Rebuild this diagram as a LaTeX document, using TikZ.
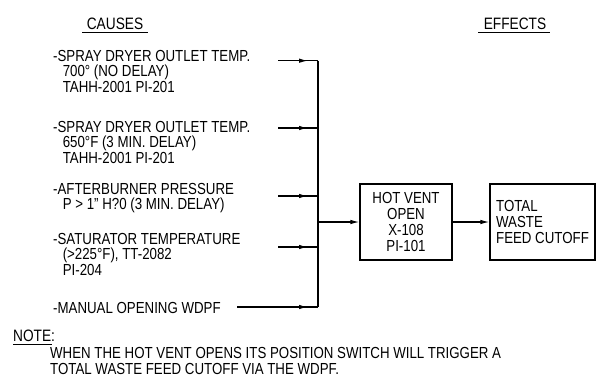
\documentclass[tikz,border=0pt]{standalone}
\usepackage{fontspec}
\setmainfont{Liberation Sans}[FakeStretch=0.83]
\usetikzlibrary{arrows.meta,decorations.markings}

\tikzset{
    cause/.style={anchor=north west, inner sep=0pt, align=left,
        font=\fontsize{16}{15.5}\selectfont},
    heading/.style={inner sep=0pt, font=\fontsize{16.5}{16}\selectfont},
    effectbox/.style={draw, line width=1.2pt, minimum width=92pt,
        minimum height=76pt, inner sep=2pt, font=\fontsize{16}{16}\selectfont},
    feed/.style={line width=1.2pt, postaction={decorate},
        decoration={markings, mark=at position -10pt with {\arrow{Latex[length=9pt,width=4.5pt]}}}},
    link/.style={line width=1.2pt, -{Latex[length=9pt,width=4.5pt]}}
}

\begin{document}
\begin{tikzpicture}[x=1pt, y=-1pt]
    \useasboundingbox (0,0) rectangle (605,381);

    % Headings
    \node[heading, anchor=north] (causes) at (115,18) {CAUSES};
    \node[heading, anchor=north] (effects) at (515,18) {EFFECTS};
    \draw[line width=1pt] (82,32) -- (148,32);
    \draw[line width=1pt] (478,32) -- (550,32);

    % Causes
    \node[cause] (c1) at (53,50) {-SPRAY DRYER OUTLET TEMP.\\\hspace*{.6em}700\textdegree\ (NO DELAY)\\\hspace*{.6em}TAHH-2001 PI-201};
    \node[cause] (c2) at (53,121) {-SPRAY DRYER OUTLET TEMP.\\\hspace*{.6em}650\textdegree F (3 MIN. DELAY)\\\hspace*{.6em}TAHH-2001 PI-201};
    \node[cause] (c3) at (53,183) {-AFTERBURNER PRESSURE\\\hspace*{.6em}P > 1" H?0 (3 MIN. DELAY)};
    \node[cause] (c4) at (53,233) {-SATURATOR TEMPERATURE\\\hspace*{.6em}(>225\textdegree F), TT-2082\\\hspace*{.6em}PI-204};
    \node[cause] (c5) at (53,302) {-MANUAL OPENING WDPF};

    % Effects
    \node[effectbox, align=center] (vent) at (406,222) {HOT VENT\\OPEN\\X-108\\PI-101};
    \node[effectbox, align=left, minimum width=105pt] (cutoff) at (542.5,222) {TOTAL\\WASTE\\FEED CUTOFF};

    % Bus coordinates
    \coordinate (s1) at (278,60.7);
    \coordinate (s2) at (278,128);
    \coordinate (s3) at (278,196);
    \coordinate (s4) at (278,247);
    \coordinate (s5) at (237,307);
    \coordinate (b1) at (318,60.7);
    \coordinate (b2) at (318,128);
    \coordinate (b3) at (318,196);
    \coordinate (b4) at (318,247);
    \coordinate (b5) at (318,307);
    \coordinate (j) at (318,222);

    % Connectors
    \foreach \i in {1,...,5}
        \draw[feed] (s\i) -- (b\i);
    \draw[line width=1.2pt] (b1) -- (b5);
    \draw[link] (j) -- (vent.west);
    \draw[link] (vent.east) -- (cutoff.west);

    % Note
    \node[heading, anchor=north west] (note) at (13,330) {NOTE:};
    \draw[line width=1pt] (note.south west) ++(0,2) -- ++(39,0);
    \node[cause, font=\fontsize{16}{16}\selectfont] (notetext) at (50,347)
        {WHEN THE HOT VENT OPENS ITS POSITION SWITCH WILL TRIGGER A\\TOTAL WASTE FEED CUTOFF VIA THE WDPF.};
\end{tikzpicture}
\end{document}
